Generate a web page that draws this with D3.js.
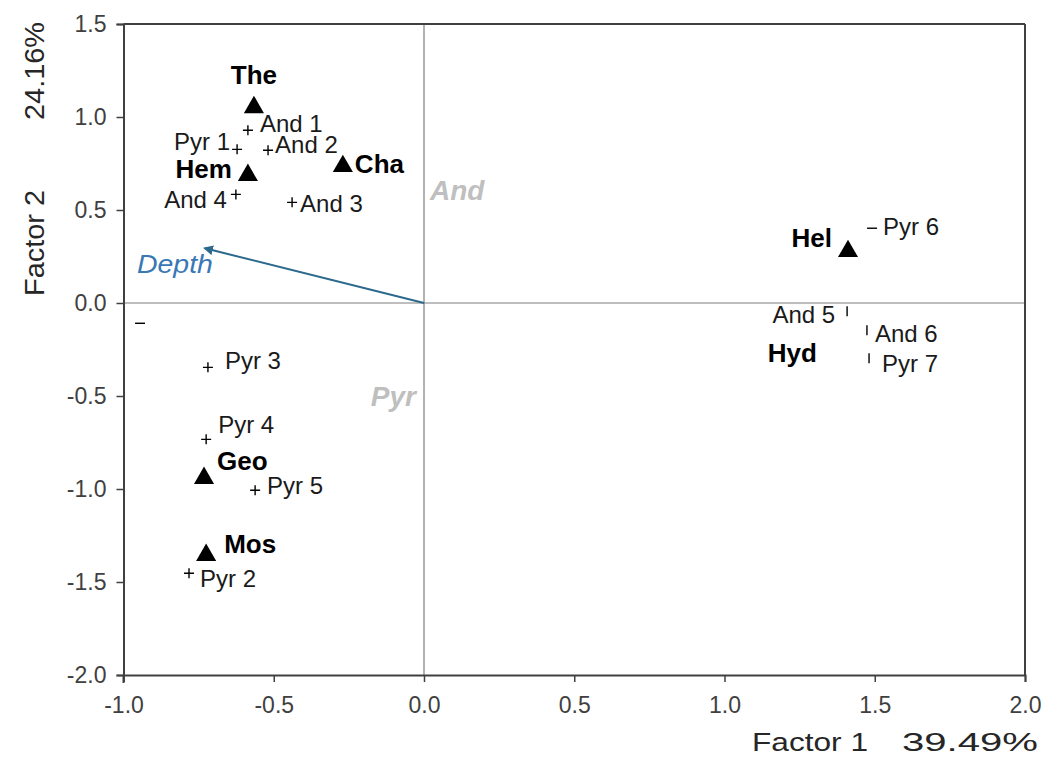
<!DOCTYPE html>
<html>
<head>
<meta charset="utf-8">
<script src="https://cdn.jsdelivr.net/npm/d3@7"></script>
<style>
  html, body { margin: 0; padding: 0; background: #fff; }
  svg { display: block; font-family: "Liberation Sans", Arial, sans-serif; }
</style>
</head>
<body>
<svg id="chart" width="1047" height="759"></svg>
<script>
// ---- data ----
const xTicks = [-1.0, -0.5, 0.0, 0.5, 1.0, 1.5, 2.0];
const yTicks = [1.5, 1.0, 0.5, 0.0, -0.5, -1.0, -1.5, -2.0];

// species (triangles)
const speciesNames = ["The", "Hem", "Cha", "Hel", "Geo", "Mos", "Hyd"];
const speciesX = [-0.566, -0.586, -0.270, 1.411, -0.732, -0.725, 1.361];
const speciesY = [1.052, 0.687, 0.735, 0.278, -0.942, -1.356, -0.292];
const speciesShown = [true, true, true, true, true, true, false];

// samples (plus markers)
const sampleNames = ["And 1", "Pyr 1", "And 2", "And 4", "And 3", "Pyr 3", "Pyr 4", "Pyr 5", "Pyr 2", "Pyr 6", "And 5", "And 6", "Pyr 7", ""];
const sampleX = [-0.586, -0.622, -0.519, -0.626, -0.439, -0.719, -0.725, -0.562, -0.782, 1.491, 1.408, 1.474, 1.481, -0.945];
const sampleY = [0.929, 0.826, 0.821, 0.584, 0.541, -0.346, -0.733, -1.007, -1.453, 0.402, -0.044, -0.147, -0.297, -0.109];
const sampleMark = ["plus", "plus", "plus", "plus", "plus", "plus", "plus", "plus", "plus", "hbar", "vbar", "vbar", "vbar", "hbar"];

// group centroids
const groupNames = ["And", "Pyr"];
const groupX = [0.020, -0.027];
const groupY = [0.552, -0.555];

// environmental vector
const vectorName = "Depth";
const vectorX = -0.729;
const vectorY = 0.294;

const xTitleParts = ["Factor 1", "39.49%"];
const yTitleParts = ["Factor 2", "24.16%"];

// ---- label placement (pixels) ----
const speciesLabelDx = [0, -16, 12, -16, 13, 18, -16];
const speciesLabelDy = [-23, 3, 7, -4, -8, -2, 5];
const speciesAnchor = ["middle", "end", "start", "end", "start", "start", "end"];
const sampleLabelDx = [12, -7, 7, -9, 8, 17, 12, 12, 11, 11, -12, 8, 13, 0];
const sampleLabelDy = [2, 1, 3, 14, 10, 2, -6, 4, 14, 7, 12, 12, 14, 0];
const sampleAnchor = ["start", "end", "start", "end", "start", "start", "start", "start", "start", "start", "end", "start", "start", "start"];

// ---- layout ----
const svg = d3.select("#chart");
const L = 123.5, R = 1025, T = 24, B = 675;
const x = d3.scaleLinear().domain([-1, 2]).range([L, R]);
const y = d3.scaleLinear().domain([-2, 1.5]).range([B, T]);
const fmt = d => d3.format(".1f")(d).replace("\u2212", "-");

// zero lines
svg.append("line").attr("x1", x(0)).attr("x2", x(0)).attr("y1", T).attr("y2", B)
  .attr("stroke", "#7f7f7f").attr("stroke-width", 1.2);
svg.append("line").attr("x1", L).attr("x2", R).attr("y1", y(0)).attr("y2", y(0))
  .attr("stroke", "#7f7f7f").attr("stroke-width", 1.2);

// frame (top/right)
svg.append("line").attr("x1", L).attr("x2", R).attr("y1", T).attr("y2", T)
  .attr("stroke", "#404040").attr("stroke-width", 2);
svg.append("line").attr("x1", R).attr("x2", R).attr("y1", T).attr("y2", B)
  .attr("stroke", "#404040").attr("stroke-width", 2);

// axes
const xAxis = d3.axisBottom(x).tickValues(xTicks).tickFormat(fmt).tickSizeOuter(0).tickSize(7).tickPadding(15);
const yAxis = d3.axisLeft(y).tickValues(yTicks).tickFormat(fmt).tickSizeOuter(0).tickSize(7).tickPadding(10);

const gx = svg.append("g").attr("transform", `translate(0,${B})`).call(xAxis);
const gy = svg.append("g").attr("transform", `translate(${L},0)`).call(yAxis);
[gx, gy].forEach(g => {
  g.select(".domain").attr("stroke", "#404040").attr("stroke-width", 2);
  g.selectAll(".tick line").attr("stroke", "#404040").attr("stroke-width", 1.5);
  g.selectAll(".tick text").attr("fill", "#404040").attr("font-size", 23)
    .attr("font-family", "'Liberation Sans', Arial, sans-serif");
});
svg.append("line").attr("x1", L).attr("x2", L).attr("y1", B).attr("y2", B + 8)
  .attr("stroke", "#404040").attr("stroke-width", 2);

// axis titles
const xtStarts = [752, 902], xtLens = [116, 136];
xTitleParts.forEach((t, i) => {
  svg.append("text").attr("x", xtStarts[i]).attr("y", 751)
    .attr("font-size", 25).attr("fill", "#262626")
    .attr("textLength", xtLens[i]).attr("lengthAdjust", "spacingAndGlyphs").text(t);
});
const ytStarts = [296, 120], ytLens = [106, 98];
yTitleParts.forEach((t, i) => {
  svg.append("text").attr("transform", `translate(44,${ytStarts[i]}) rotate(-90)`)
    .attr("font-size", 27).attr("fill", "#262626")
    .attr("textLength", ytLens[i]).attr("lengthAdjust", "spacingAndGlyphs").text(t);
});

// vector arrow
const defs = svg.append("defs");
defs.append("marker").attr("id", "arrowhead").attr("viewBox", "0 0 10 10")
  .attr("refX", 8).attr("refY", 5).attr("markerWidth", 5).attr("markerHeight", 5)
  .attr("orient", "auto")
  .append("path").attr("d", "M0,0 L10,5 L0,10 z").attr("fill", "#2b6a8c");
svg.append("line").attr("x1", x(0)).attr("y1", y(0)).attr("x2", x(vectorX)).attr("y2", y(vectorY))
  .attr("stroke", "#2b6a8c").attr("stroke-width", 2).attr("marker-end", "url(#arrowhead)");
svg.append("text").attr("x", x(vectorX) - 68).attr("y", y(vectorY) + 25)
  .attr("font-size", 25).attr("font-style", "italic").attr("fill", "#3a78b5")
  .attr("textLength", 76).attr("lengthAdjust", "spacingAndGlyphs").text(vectorName);

// group centroid labels
svg.selectAll(".grp").data(groupNames).join("text").attr("class", "grp")
  .attr("x", (d, i) => x(groupX[i])).attr("y", (d, i) => y(groupY[i]))
  .attr("text-anchor", (d, i) => i === 0 ? "start" : "end")
  .attr("font-size", 28).attr("font-style", "italic").attr("font-weight", "bold")
  .attr("fill", "#bfbfbf").text(d => d);

// samples
const sym = { plus: "M-5,0H5M0,-5V5", hbar: "M-5,0H5", vbar: "M0,-5V5" };
svg.selectAll(".smp").data(sampleNames).join("path").attr("class", "smp")
  .attr("transform", (d, i) => `translate(${x(sampleX[i])},${y(sampleY[i])})`)
  .attr("d", (d, i) => sym[sampleMark[i]])
  .attr("stroke", "#000").attr("stroke-width", 1.4).attr("fill", "none");
svg.selectAll(".smpl").data(sampleNames).join("text").attr("class", "smpl")
  .attr("x", (d, i) => x(sampleX[i]) + sampleLabelDx[i])
  .attr("y", (d, i) => y(sampleY[i]) + sampleLabelDy[i])
  .attr("text-anchor", (d, i) => sampleAnchor[i])
  .attr("font-size", 24).attr("fill", "#1a1a1a").text(d => d);

// species
const tri = d3.symbol().type(d3.symbolTriangle).size(175);
svg.selectAll(".sp").data(speciesNames.filter((d, i) => speciesShown[i])).join("path").attr("class", "sp")
  .attr("transform", d => { const i = speciesNames.indexOf(d); return `translate(${x(speciesX[i])},${y(speciesY[i])})`; })
  .attr("d", tri).attr("fill", "#000");
svg.selectAll(".spl").data(speciesNames).join("text").attr("class", "spl")
  .attr("x", (d, i) => x(speciesX[i]) + speciesLabelDx[i])
  .attr("y", (d, i) => y(speciesY[i]) + speciesLabelDy[i])
  .attr("text-anchor", (d, i) => speciesAnchor[i])
  .attr("font-size", 26).attr("font-weight", "bold").attr("fill", "#000").text(d => d);
</script>
</body>
</html>
